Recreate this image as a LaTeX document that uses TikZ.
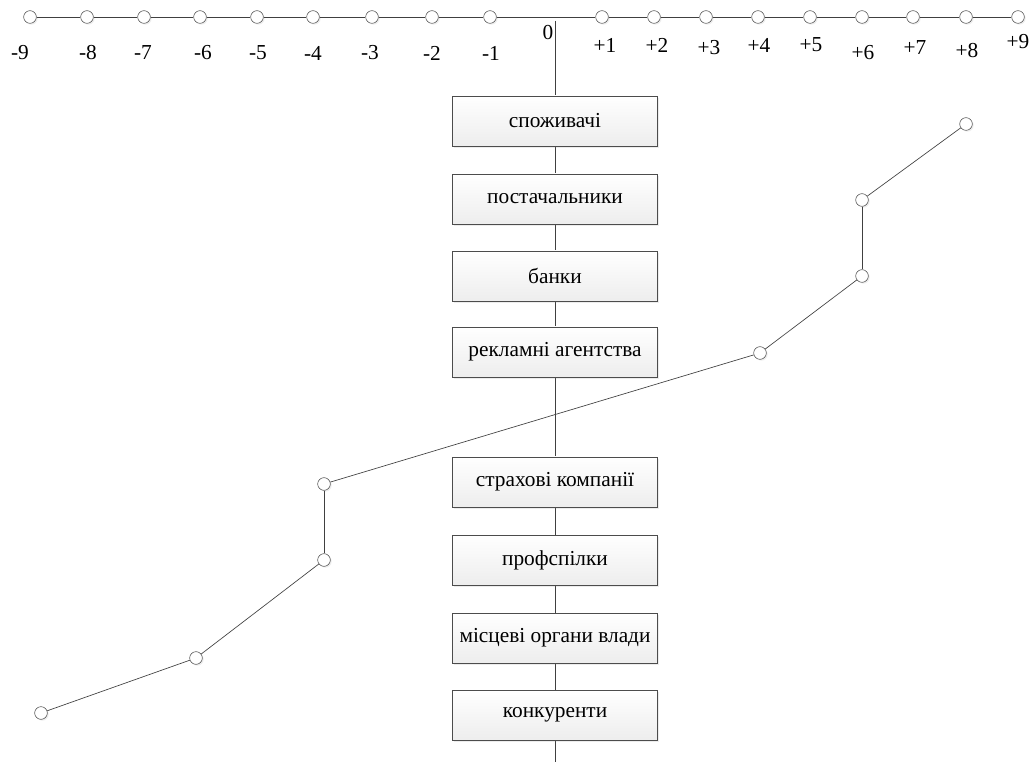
\documentclass[tikz,border=0pt]{standalone}
\usepackage{fontspec}
\setmainfont{Liberation Serif}
\usepackage{tikz}
\usetikzlibrary{shadows}

\begin{document}
\begin{tikzpicture}[x=0.75pt, y=-0.75pt,
    every node/.style={font=\fontsize{16}{19}\selectfont},
    dot/.style={circle, draw=black!70, fill=white, inner sep=0pt, minimum size=9.5pt,
        drop shadow={opacity=0.15, shadow xshift=1pt, shadow yshift=-1pt}},
    group/.style={rectangle, draw=black!70, top color=white, bottom color=black!7,
        minimum width=154pt, minimum height=37.5pt, inner sep=0pt,
        drop shadow={opacity=0.15, shadow xshift=1.2pt, shadow yshift=-1.2pt}},
    link/.style={draw=black!75, line width=0.5pt}]
        \useasboundingbox (0,0) rectangle (1035,762);

        % Vertical axis (zero)
        \coordinate (Z1) at (555,21);
        \coordinate (Z2) at (555,762);
        \draw[link] (Z1) -- (Z2);
        \node (Z0) at (548,33) {0};

        % Scale points, left side
        \node[dot] (L9) at (30,17) {};
        \node[dot] (L8) at (87,17) {};
        \node[dot] (L7) at (144,17) {};
        \node[dot] (L6) at (200,17) {};
        \node[dot] (L5) at (257,17) {};
        \node[dot] (L4) at (313,17) {};
        \node[dot] (L3) at (372,17) {};
        \node[dot] (L2) at (432,17) {};
        \node[dot] (L1) at (490,17) {};

        % Scale points, right side
        \node[dot] (R1) at (602,17) {};
        \node[dot] (R2) at (654,17) {};
        \node[dot] (R3) at (706,17) {};
        \node[dot] (R4) at (758,17) {};
        \node[dot] (R5) at (810,17) {};
        \node[dot] (R6) at (862,17) {};
        \node[dot] (R7) at (913,17) {};
        \node[dot] (R8) at (966,17) {};
        \node[dot] (R9) at (1018,17) {};

        % Scale line
        \draw[link] (L9) -- (L8);
        \draw[link] (L8) -- (L7);
        \draw[link] (L7) -- (L6);
        \draw[link] (L6) -- (L5);
        \draw[link] (L5) -- (L4);
        \draw[link] (L4) -- (L3);
        \draw[link] (L3) -- (L2);
        \draw[link] (L2) -- (L1);
        \draw[link] (L1) -- (R1);
        \draw[link] (R1) -- (R2);
        \draw[link] (R2) -- (R3);
        \draw[link] (R3) -- (R4);
        \draw[link] (R4) -- (R5);
        \draw[link] (R5) -- (R6);
        \draw[link] (R6) -- (R7);
        \draw[link] (R7) -- (R8);
        \draw[link] (R8) -- (R9);

        % Scale labels
        \node (tL9) at (20,53) {-9};
        \node (tL8) at (88,53) {-8};
        \node (tL7) at (143,53) {-7};
        \node (tL6) at (203,53) {-6};
        \node (tL5) at (258,53) {-5};
        \node (tL4) at (313,53) {-4};
        \node (tL3) at (370,53) {-3};
        \node (tL2) at (432,53) {-2};
        \node (tL1) at (491,53) {-1};
        \node (tR1) at (605,45) {+1};
        \node (tR2) at (657,45) {+2};
        \node (tR3) at (709,48) {+3};
        \node (tR4) at (759,45) {+4};
        \node (tR5) at (811,45) {+5};
        \node (tR6) at (863,53) {+6};
        \node (tR7) at (915,48) {+7};
        \node (tR8) at (967,51) {+8};
        \node (tR9) at (1018,42) {+9};

        % Stakeholder groups
        \node[group] (S1) at (555,121) {споживачі};
        \node[group] (S2) at (555,199) {постачальники};
        \node[group] (S3) at (555,276) {банки};
        \node[group] (S4) at (555,352) {рекламні агентства};
        \node[group] (S5) at (555,482) {страхові компанії};
        \node[group] (S6) at (555,560) {профспілки};
        \node[group] (S7) at (555,638) {місцеві органи влади};
        \node[group] (S8) at (555,715) {конкуренти};

        % Profile points
        \node[dot] (P1) at (966,124) {};
        \node[dot] (P2) at (862,200) {};
        \node[dot] (P3) at (862,276) {};
        \node[dot] (P4) at (760,353) {};
        \node[dot] (P5) at (324,484) {};
        \node[dot] (P6) at (324,560) {};
        \node[dot] (P7) at (196,658) {};
        \node[dot] (P8) at (41,713) {};

        % Profile line
        \draw[link] (P1) -- (P2);
        \draw[link] (P2) -- (P3);
        \draw[link] (P3) -- (P4);
        \draw[link] (P4) -- (P5);
        \draw[link] (P5) -- (P6);
        \draw[link] (P6) -- (P7);
        \draw[link] (P7) -- (P8);
\end{tikzpicture}
\end{document}
